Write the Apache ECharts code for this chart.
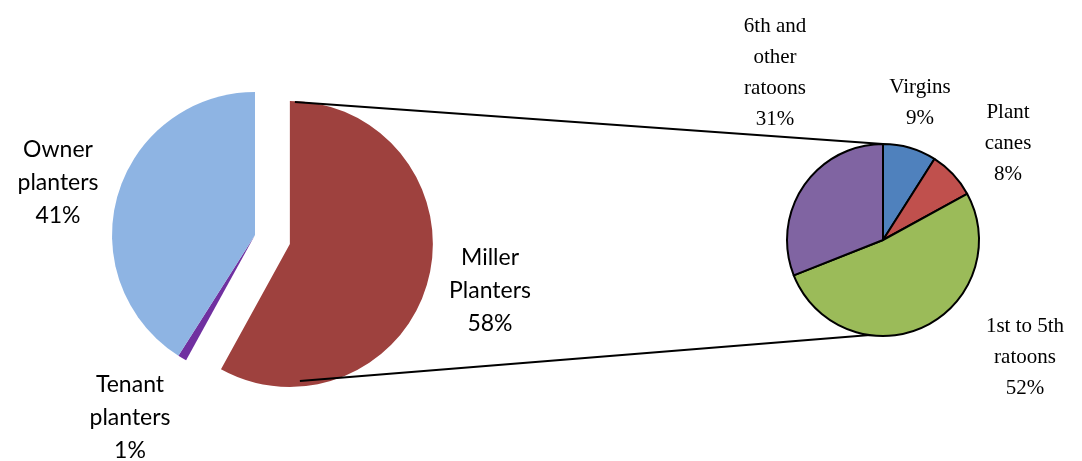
<!DOCTYPE html>
<html>
<head>
<meta charset="utf-8">
<script src="https://cdn.jsdelivr.net/npm/echarts@6/dist/echarts.min.js"></script>
<style>
  html, body { margin: 0; padding: 0; background: #fff; }
  #main { width: 1082px; height: 461px; }
</style>
</head>
<body>
<div id="main"></div>
<script>
// planter types (left pie)
var planterNames = ['Miller\nPlanters', 'Tenant\nplanters', 'Owner\nplanters'];
var planterValues = [58, 1, 41];
// cane types of miller planters (right pie)
var caneNames = ['Virgins', 'Plant\ncanes', '1st to 5th\nratoons', '6th and\nother\nratoons'];
var caneValues = [9, 8, 52, 31];

var planterColors = ['#9E413E', '#7030A0', '#8EB4E3'];
var caneColors = ['#4F81BD', '#C0504D', '#9BBB59', '#8064A2'];

// label anchor points
var planterLabelPos = [[490, 291], [130, 418], [58, 183]];
var caneLabelPos = [[920, 103], [1008, 143], [1025, 357], [775, 73]];

var leftC = [255, 235], leftR = 143, explode = 36;
var rightC = [883, 240], rightR = 96;

// the Miller slice is pulled out along its middle angle
var midA = (90 - planterValues[0] / 100 * 360 / 2) * Math.PI / 180;
var mc = [leftC[0] + explode * Math.cos(midA), leftC[1] - explode * Math.sin(midA)];

var leftLabel = {
    show: true,
    formatter: '{b}\n{c}%',
    fontFamily: 'Lato',
    fontSize: 23,
    lineHeight: 33,
    color: '#000',
    align: 'center',
    overflow: 'none'
};

// same data in both left series, each one shows only its own slices
function planterData(showExploded) {
    return planterValues.map(function (v, i) {
        var visible = (i === 0) === showExploded;
        return {
            name: planterNames[i],
            value: v,
            itemStyle: { color: visible ? planterColors[i] : 'transparent' },
            label: { show: visible }
        };
    });
}

function planterLayout(p) {
    var pos = planterLabelPos[p.dataIndex];
    return { x: pos[0], y: pos[1], align: 'center', verticalAlign: 'middle' };
}

var myChart = echarts.init(document.getElementById('main'));
myChart.setOption({
    animation: false,
    series: [
        {
            type: 'pie',
            center: leftC,
            radius: leftR,
            startAngle: 90,
            clockwise: true,
            silent: true,
            label: leftLabel,
            labelLine: { show: false },
            labelLayout: planterLayout,
            data: planterData(false)
        },
        {
            type: 'pie',
            center: mc,
            radius: leftR,
            startAngle: 90,
            clockwise: true,
            silent: true,
            label: leftLabel,
            labelLine: { show: false },
            labelLayout: planterLayout,
            data: planterData(true)
        },
        {
            type: 'pie',
            center: rightC,
            radius: rightR,
            startAngle: 90,
            clockwise: true,
            silent: true,
            itemStyle: { borderColor: '#000', borderWidth: 2 },
            label: {
                show: true,
                formatter: '{b}\n{c}%',
                fontFamily: 'Liberation Serif',
                fontSize: 21,
                lineHeight: 31,
                color: '#000',
                align: 'center',
                overflow: 'none'
            },
            labelLine: { show: false },
            labelLayout: function (p) {
                var pos = caneLabelPos[p.dataIndex];
                return { x: pos[0], y: pos[1], align: 'center', verticalAlign: 'middle' };
            },
            data: caneValues.map(function (v, i) {
                return { name: caneNames[i], value: v, itemStyle: { color: caneColors[i] } };
            })
        }
    ],
    graphic: [
        {
            type: 'line',
            z: 100,
            shape: { x1: mc[0] + 5, y1: mc[1] - leftR + 1, x2: rightC[0], y2: rightC[1] - rightR },
            style: { stroke: '#000', lineWidth: 2 }
        },
        {
            type: 'line',
            z: 100,
            shape: { x1: mc[0] + 10, y1: mc[1] + leftR - 6, x2: rightC[0] - 13, y2: rightC[1] + rightR - 1 },
            style: { stroke: '#000', lineWidth: 2 }
        }
    ]
});
</script>
</body>
</html>
